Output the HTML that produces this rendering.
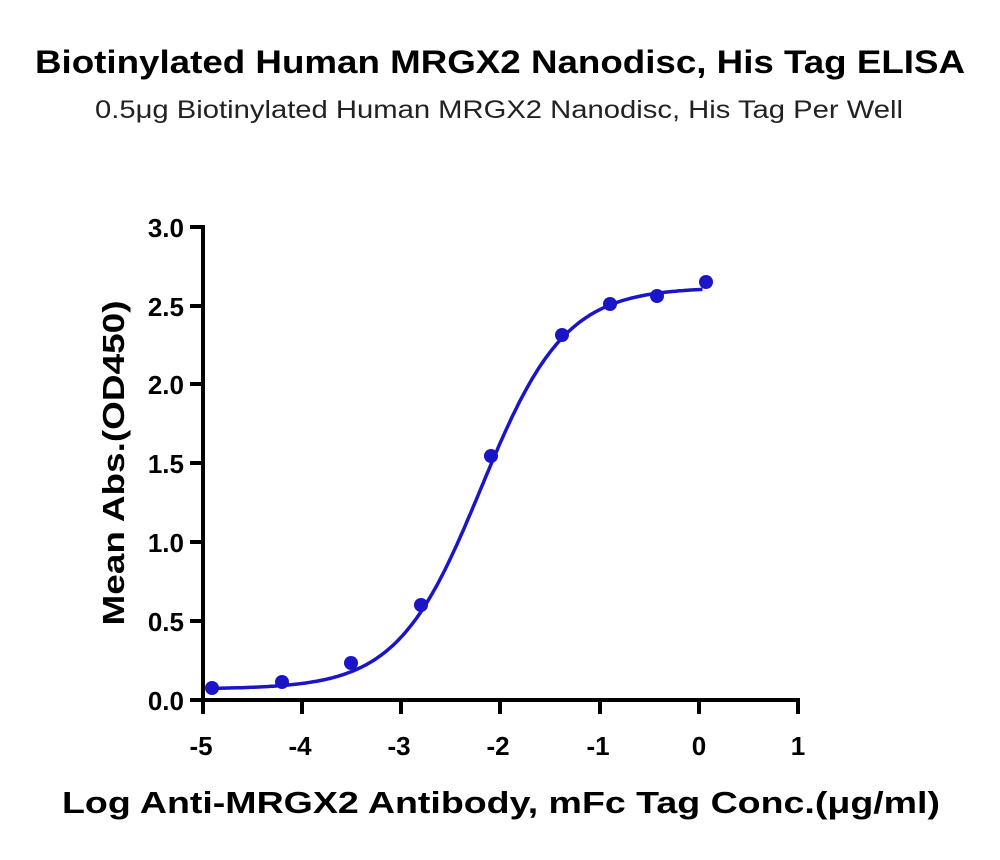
<!DOCTYPE html>
<html><head><meta charset="utf-8"><style>
body{margin:0;background:#fff;}
svg text{font-family:"Liberation Sans",sans-serif;}
</style></head><body>
<svg width="1000" height="855" viewBox="0 0 1000 855" xmlns="http://www.w3.org/2000/svg">
<text x="35" y="73" textLength="930" lengthAdjust="spacingAndGlyphs" font-size="32" font-weight="bold" fill="#000">Biotinylated Human MRGX2 Nanodisc, His Tag ELISA</text>
<text x="95" y="118" textLength="808" lengthAdjust="spacingAndGlyphs" font-size="25" fill="#222">0.5μg Biotinylated Human MRGX2 Nanodisc, His Tag Per Well</text>
<g stroke="#000" stroke-width="4" fill="none">
<line x1="203" y1="225" x2="203" y2="702"/>
<line x1="201" y1="700" x2="800" y2="700"/>
<line x1="190" y1="227" x2="203" y2="227"/>
<line x1="190" y1="306" x2="203" y2="306"/>
<line x1="190" y1="384" x2="203" y2="384"/>
<line x1="190" y1="463" x2="203" y2="463"/>
<line x1="190" y1="542" x2="203" y2="542"/>
<line x1="190" y1="621" x2="203" y2="621"/>
<line x1="190" y1="700" x2="203" y2="700"/>
<line x1="203" y1="700" x2="203" y2="714"/>
<line x1="302" y1="700" x2="302" y2="714"/>
<line x1="401" y1="700" x2="401" y2="714"/>
<line x1="500" y1="700" x2="500" y2="714"/>
<line x1="600" y1="700" x2="600" y2="714"/>
<line x1="699" y1="700" x2="699" y2="714"/>
<line x1="798" y1="700" x2="798" y2="714"/>
</g>
<g font-size="26" font-weight="bold" text-anchor="end" fill="#000">
<text x="184" y="237">3.0</text><text x="184" y="316">2.5</text><text x="184" y="394">2.0</text>
<text x="184" y="473">1.5</text><text x="184" y="552">1.0</text><text x="184" y="631">0.5</text><text x="184" y="710">0.0</text>
</g>
<g font-size="26" font-weight="bold" text-anchor="middle" fill="#000">
<text x="201" y="755">-5</text><text x="300" y="755">-4</text><text x="399" y="755">-3</text><text x="498" y="755">-2</text>
<text x="598" y="755">-1</text><text x="699" y="755">0</text><text x="798" y="755">1</text>
</g>
<text x="62" y="813" textLength="878" lengthAdjust="spacingAndGlyphs" font-size="31" font-weight="bold" fill="#000">Log  Anti-MRGX2 Antibody, mFc Tag Conc.(μg/ml)</text>
<text transform="translate(124,463) rotate(-90)" text-anchor="middle" textLength="325" lengthAdjust="spacingAndGlyphs" font-size="31" font-weight="bold" fill="#000">Mean Abs.(OD450)</text>
<path id="curve" fill="none" stroke="#1a16c8" stroke-width="3.5"/>
<g fill="#1a16c8">
<circle cx="212" cy="688" r="7"/><circle cx="282" cy="682" r="7"/><circle cx="351" cy="663" r="7"/>
<circle cx="421" cy="605" r="7"/><circle cx="491" cy="456" r="7"/><circle cx="562" cy="335" r="7"/>
<circle cx="610" cy="304" r="7"/><circle cx="657" cy="296" r="7"/><circle cx="706" cy="282" r="7"/>
</g>
</svg>
<script>
var d="";for(var i=0;i<=200;i++){var x=-4.88+i*(4.91/200);var y=0.07+2.55/(1+Math.pow(10,(-2.2-x)*1.03));
var px=203+(x+5)*99.3,py=700-y*157.5;d+=(i?"L":"M")+px.toFixed(1)+","+py.toFixed(1);}
document.getElementById("curve").setAttribute("d",d);
</script>
</body></html>
